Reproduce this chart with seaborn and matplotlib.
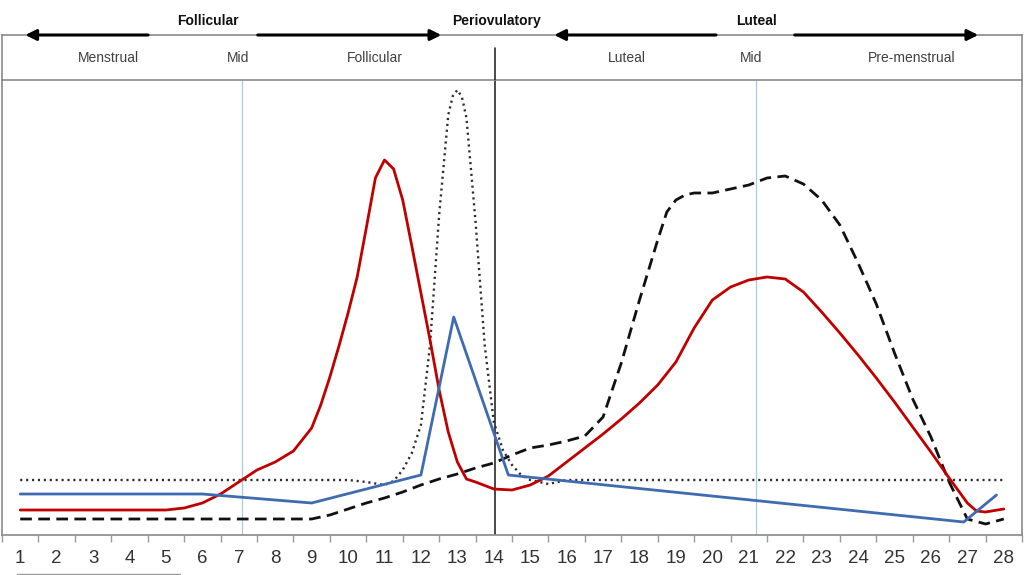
import numpy as np
import matplotlib
matplotlib.use("Agg")
import matplotlib.pyplot as plt
import seaborn as sns
from matplotlib.lines import Line2D

# ---------------- data ----------------
days = list(range(1, 29))
day_labels = [str(d) for d in days]

# red solid curve
red_day = [1, 5, 5.5, 6, 6.5, 7, 7.5, 8, 8.5, 9, 9.25, 9.5, 9.75, 10, 10.25, 10.5,
           10.75, 11, 11.25, 11.5, 11.75, 12, 12.25, 12.5, 12.75, 13, 13.25, 13.5,
           14, 14.5, 15, 15.5, 16, 16.5, 17, 17.5, 18, 18.5, 19, 19.5, 20, 20.5,
           21, 21.5, 22, 22.5, 23, 23.5, 24, 24.5, 25, 25.5, 26, 26.5, 27, 27.25,
           27.5, 28]
red_level = [25, 25, 27, 32, 41, 53, 65, 73, 84, 107, 130, 158, 189, 222, 258, 307,
             357, 375, 366, 335, 289, 242, 195, 145, 103, 73, 56, 53,
             46, 45, 50, 59, 73, 87, 101, 116, 132, 150, 173, 207, 235, 248,
             255, 258, 256, 243, 223, 202, 180, 157, 133, 108, 83, 57, 32, 24,
             23, 26]

# black dashed curve
dash_day = [1, 9, 9.5, 10, 10.5, 11, 11.5, 12, 12.5, 13, 13.5, 14, 14.5, 15, 15.5,
            16, 16.5, 17, 17.5, 18, 18.5, 18.75, 19, 19.25, 19.5, 20, 20.5, 21,
            21.5, 22, 22.5, 23, 23.5, 24, 24.5, 25, 25.5, 26, 26.5, 27, 27.5, 28]
dash_level = [16, 16, 20, 26, 32, 37, 43, 50, 56, 61, 67, 72, 80, 87, 90,
              94, 99, 118, 172, 235, 295, 323, 335, 340, 342, 342, 346, 350,
              357, 359, 351, 335, 310, 272, 231, 182, 136, 98, 53, 16, 11, 16]

# black dotted curve
dot_day = [1, 10, 10.5, 11, 11.25, 11.5, 11.75, 12, 12.25, 12.5, 12.75, 12.875, 13,
           13.125, 13.25, 13.5, 13.75, 14, 14.25, 14.5, 14.75, 15, 15.5, 16, 28]
dot_level = [55, 55, 53, 50, 54, 65, 82, 110, 190, 320, 420, 439, 445,
             438, 417, 313, 190, 113, 85, 70, 60, 55, 51, 55, 55]

# blue straight-segment curve
blue_day = [1, 6, 9, 12, 12.9, 14.4, 26.9, 27.8]
blue_level = [41, 41, 32, 60, 218, 60, 13, 40]

sub_phases = ["Menstrual", "Mid", "Follicular", "Luteal", "Mid", "Pre-menstrual"]
main_phases = ["Follicular", "Periovulatory", "Luteal"]

# ---------------- style ----------------
sns.set_theme(style="white")
plt.rcParams['font.family'] = ['Liberation Sans', 'DejaVu Sans']

fig = plt.figure(figsize=(10.24, 5.75), dpi=100)
fig.patch.set_facecolor("white")
ax = fig.add_axes([2/1024, 40/575, 1020/1024, 455/575])
hx = fig.add_axes([2/1024, 495/575, 1020/1024, 45/575])

# ---------------- main plot ----------------
ax.axvline(7.1, color="#a9c9e4", lw=0.9, zorder=1)
ax.axvline(21.2, color="#a9c9e4", lw=0.9, zorder=1)
ax.axvline(14.04, color="#2a2a2a", lw=1.2, zorder=1)

sns.lineplot(x=dot_day, y=dot_level, ax=ax, color="#2e2e2e", lw=1.7,
             linestyle=(0, (0.9, 1.6)), sort=False, estimator=None, zorder=2)
sns.lineplot(x=dash_day, y=dash_level, ax=ax, color="#111111", lw=2.0,
             linestyle=(0, (4.2, 2.3)), sort=False, estimator=None, zorder=3)
sns.lineplot(x=red_day, y=red_level, ax=ax, color="#c00000", lw=2.0,
             sort=False, estimator=None, zorder=4)
sns.lineplot(x=blue_day, y=blue_level, ax=ax, color="#3f6bb0", lw=2.0,
             sort=False, estimator=None, zorder=5)

ax.set_xlim(0.5, 28.5)
ax.set_ylim(0, 455)
ax.set_xticks(days)
ax.set_xticklabels(day_labels)
ax.set_xticks(np.arange(0.5, 29, 1), minor=True)
ax.tick_params(axis="x", which="major", length=0, pad=11, labelsize=13.5,
               labelcolor="#333333", bottom=True)
ax.tick_params(axis="x", which="minor", length=5, width=1, color="#9a9a9a",
               direction="out", bottom=True)
ax.set_yticks([])
ax.set_xlabel("")
ax.set_ylabel("")
for s in ax.spines.values():
    s.set_visible(True)
    s.set_color("#8a8a8a")
    s.set_linewidth(1.2)

# ---------------- header ----------------
hx.set_xlim(0.5, 28.5)
hx.set_ylim(0, 1)
hx.set_xticks([])
hx.set_yticks([])
hx.patch.set_alpha(0)
for name, s in hx.spines.items():
    s.set_color("#8a8a8a")
    s.set_linewidth(1.2)
    s.set_visible(name != "bottom")
hx.plot([14.04, 14.04], [0, 0.71], color="#2a2a2a", lw=1.2)

sub_x = [3.41, 6.97, 10.73, 17.66, 21.05, 25.47]
for xx, lab in zip(sub_x, sub_phases):
    hx.text(xx, 0.49, lab, ha="center", va="center", fontsize=10, color="#404040")

main_x = [6.15, 14.07, 21.2]
for xx, lab in zip(main_x, main_phases):
    hx.text(xx, 1.31, lab, ha="center", va="center", fontsize=10,
            fontweight="bold", color="#111111")

arrows = [(4.51, 1.14), (7.52, 12.56), (20.1, 15.66), (22.26, 27.3)]
for x0, x1 in arrows:
    hx.annotate("", xy=(x1, 1.0), xytext=(x0, 1.0), annotation_clip=False,
                arrowprops=dict(arrowstyle="-|>", color="black", lw=2.2,
                                mutation_scale=16, shrinkA=0, shrinkB=0))

fig.add_artist(Line2D([17/1024, 180/1024], [1.5/575, 1.5/575], color="#9a9a9a", lw=1))

fig.savefig("out.png", dpi=100, facecolor="white")
